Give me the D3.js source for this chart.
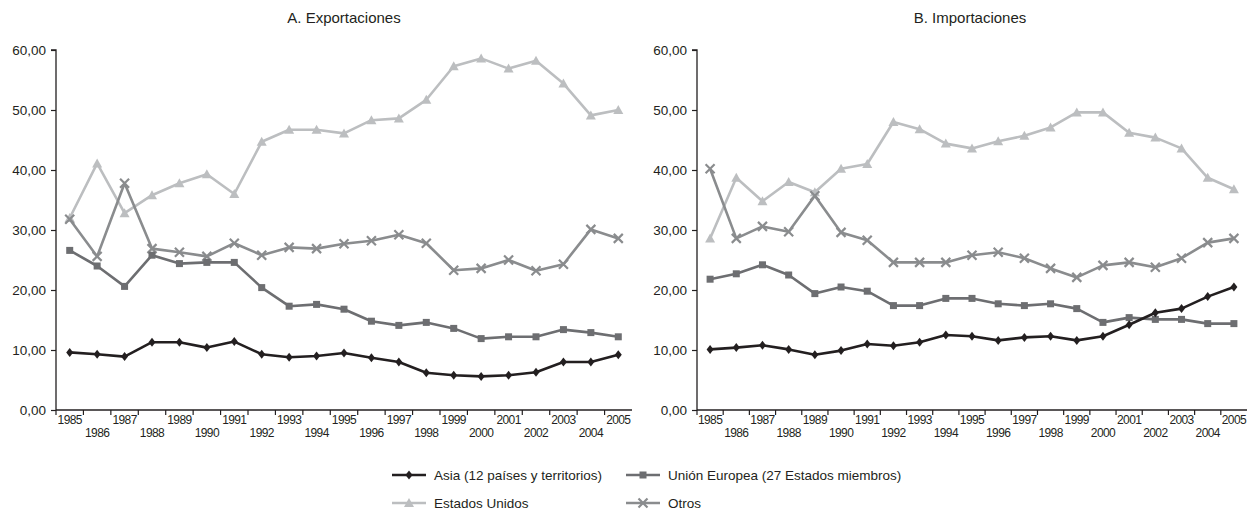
<!DOCTYPE html>
<html><head><meta charset="utf-8">
<script src="https://cdn.jsdelivr.net/npm/d3@7"></script>
<style>
body{margin:0;background:#fff;}
svg text{font-family:"Liberation Sans",Arial,sans-serif;fill:#231f20;}
</style></head><body>
<svg id="c" width="1247" height="512"></svg>
<script>
const years = d3.range(1985, 2006).map(String);
const yTicks = [0, 10, 20, 30, 40, 50, 60];
const panelTitles = ["A. Exportaciones", "B. Importaciones"];
const seriesNames = ["Asia (12 países y territorios)", "Unión Europea (27 Estados miembros)", "Estados Unidos", "Otros"];

// Exportaciones
const expAsia = [9.6, 9.3, 8.9, 11.3, 11.3, 10.4, 11.4, 9.3, 8.8, 9.0, 9.5, 8.7, 8.0, 6.2, 5.8, 5.6, 5.8, 6.3, 8.0, 8.0, 9.2];
const expUE = [26.6, 24.0, 20.6, 25.8, 24.4, 24.6, 24.6, 20.4, 17.3, 17.6, 16.8, 14.8, 14.1, 14.6, 13.6, 11.9, 12.2, 12.2, 13.4, 12.9, 12.2];
const expUS = [32.0, 41.1, 32.8, 35.8, 37.8, 39.3, 36.0, 44.7, 46.7, 46.7, 46.1, 48.3, 48.6, 51.7, 57.3, 58.6, 56.9, 58.2, 54.4, 49.1, 50.0];
const expOtros = [31.8, 25.6, 37.8, 26.9, 26.3, 25.6, 27.8, 25.8, 27.1, 26.9, 27.7, 28.2, 29.2, 27.8, 23.3, 23.6, 25.0, 23.2, 24.3, 30.1, 28.6];

// Importaciones
const impAsia = [10.1, 10.4, 10.8, 10.1, 9.2, 9.9, 11.0, 10.7, 11.3, 12.5, 12.3, 11.6, 12.1, 12.3, 11.6, 12.3, 14.2, 16.2, 16.9, 18.9, 20.5];
const impUE = [21.8, 22.7, 24.2, 22.5, 19.4, 20.5, 19.8, 17.4, 17.4, 18.6, 18.6, 17.7, 17.4, 17.7, 16.9, 14.6, 15.4, 15.1, 15.1, 14.4, 14.4];
const impUS = [28.6, 38.7, 34.8, 38.0, 36.3, 40.2, 41.0, 48.0, 46.8, 44.4, 43.6, 44.8, 45.7, 47.1, 49.6, 49.6, 46.2, 45.4, 43.6, 38.7, 36.8];
const impOtros = [40.2, 28.6, 30.6, 29.7, 35.7, 29.6, 28.3, 24.6, 24.6, 24.6, 25.8, 26.3, 25.3, 23.6, 22.1, 24.1, 24.6, 23.8, 25.3, 27.9, 28.6];

const colors = ["#231f20", "#6d6e71", "#bcbec0", "#8a8c8e"];
const markers = ["diamond", "square", "triangle", "cross"];

const svg = d3.select("#c");

function drawMarker(g, type, color, x, y) {
  if (type === "diamond") {
    g.append("path").attr("d", `M${x},${y-4.5}L${x+3.5},${y}L${x},${y+4.5}L${x-3.5},${y}Z`).attr("fill", color);
  } else if (type === "square") {
    g.append("rect").attr("x", x-3.5).attr("y", y-3.5).attr("width", 7).attr("height", 7).attr("fill", color);
  } else if (type === "triangle") {
    g.append("path").attr("d", `M${x},${y-5}L${x+5},${y+4}L${x-5},${y+4}Z`).attr("fill", color);
  } else {
    g.append("path").attr("d", `M${x-4.5},${y-4.5}L${x+4.5},${y+4.5}M${x-4.5},${y+4.5}L${x+4.5},${y-4.5}`)
      .attr("stroke", color).attr("stroke-width", 2.2).attr("fill", "none");
  }
}

const panels = [
  {x0: 56, x1: 632, data: [expAsia, expUE, expUS, expOtros]},
  {x0: 697, x1: 1247, data: [impAsia, impUE, impUS, impOtros]}
];
const yTop = 50, yBot = 410;

panels.forEach((p, pi) => {
  const x = d3.scaleBand().domain(years).range([p.x0, p.x1]);
  const y = d3.scaleLinear().domain([0, 60]).range([yBot, yTop]);
  const g = svg.append("g");

  g.append("text").attr("x", pi === 0 ? 344 : 970).attr("y", 23).attr("text-anchor", "middle")
    .attr("font-size", 15).text(panelTitles[pi]);

  const ya = g.append("g").attr("transform", `translate(${p.x0},0)`)
    .call(d3.axisLeft(y).tickValues(yTicks).tickSize(5).tickPadding(5).tickFormat(d => d3.format(".2f")(d).replace(".", ",")));
  ya.select(".domain").attr("stroke", "#231f20").attr("stroke-width", 1.3).attr("d", `M-5,${yTop}H0V${yBot}`);
  ya.selectAll(".tick line").attr("stroke", "#231f20").attr("stroke-width", 1.2);
  ya.selectAll(".tick text").attr("font-size", 13.5).attr("font-family", null).attr("fill", "#231f20");

  const xa = g.append("g").attr("transform", `translate(0,${yBot})`)
    .call(d3.axisBottom(x).tickSize(0).tickPadding(0));
  xa.attr("font-family", null);
  xa.select(".domain").attr("stroke", "#231f20").attr("stroke-width", 1.3).attr("d", `M${p.x0},0H${p.x1}`);
  xa.selectAll(".tick text").attr("font-size", 12).attr("fill", "#231f20")
    .attr("dy", null)
    .attr("y", (d, i) => i % 2 === 0 ? 14 : 27)
    .attr("letter-spacing", -0.6);
  xa.selectAll("line.bt").data(years).enter().append("line").attr("class", "bt")
    .attr("x1", d => x(d)).attr("x2", d => x(d)).attr("y1", 0).attr("y2", 5)
    .attr("stroke", "#231f20").attr("stroke-width", 1.2);

  [2, 3, 1, 0].forEach(si => {
    const vals = p.data[si];
    const line = d3.line().x((d, i) => x(years[i]) + x.bandwidth() / 2).y(d => y(d));
    g.append("path").datum(vals).attr("d", line).attr("fill", "none")
      .attr("stroke", colors[si]).attr("stroke-width", 2.6).attr("stroke-linejoin", "round");
    const mg = g.append("g");
    vals.forEach((v, i) => drawMarker(mg, markers[si], colors[si], x(years[i]) + x.bandwidth() / 2, y(v)));
  });
});

const legPos = [[392, 475], [626, 475], [392, 503], [626, 503]];
seriesNames.forEach((name, i) => {
  const [lx, ly] = legPos[i];
  const lg = svg.append("g");
  lg.append("line").attr("x1", lx).attr("x2", lx + 34).attr("y1", ly).attr("y2", ly)
    .attr("stroke", colors[i]).attr("stroke-width", 2.6);
  drawMarker(lg, markers[i], colors[i], lx + 17, ly);
  lg.append("text").attr("x", lx + 42).attr("y", ly + 4.5).attr("font-size", 13.5).text(name);
});
</script>
</body></html>
